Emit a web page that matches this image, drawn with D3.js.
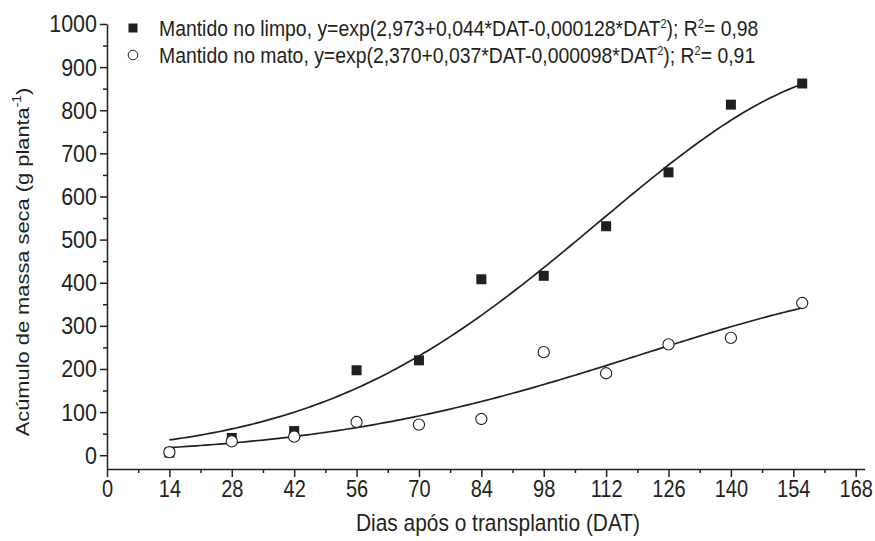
<!DOCTYPE html>
<html>
<head>
<meta charset="utf-8">
<script src="https://cdn.jsdelivr.net/npm/d3@7"></script>
<style>
  html, body { margin: 0; padding: 0; background: #fff; }
  svg { display: block; font-family: "Liberation Sans", Arial, sans-serif; }
</style>
</head>
<body>
<svg id="chart" width="875" height="541"></svg>
<script>
// Days after transplanting (DAT)
const dat = [14, 28, 42, 56, 70, 84, 98, 112, 126, 140, 156];
// Dry mass accumulation (g plant^-1), weed-free plots
const limpo = [6, 40, 56, 197, 220, 408, 416, 531, 656, 813, 862];
// Dry mass accumulation (g plant^-1), weedy plots
const mato = [7, 32, 43, 77, 71, 84, 239, 190, 257, 272, 353];
// Fitted model y = exp(a + b*DAT + c*DAT^2), coefficients before rounding
const fitLimpo = [2.973, 0.04415, -0.0001275];
const fitMato = [2.370, 0.03741, -0.0000975];

const xTicks = d3.range(0, 169, 14);
const yTicks = d3.range(0, 1001, 100);

const ink = "#231f20";
const tall = 1.15; // glyphs are drawn taller than wide
const svg = d3.select("#chart");

const x = d3.scaleLinear().domain([0, 170]).range([107, 864.6]);
const y = d3.scaleLinear().domain([-32, 1000]).range([469, 24]);

// Axes with minor ticks
const xMinor = d3.range(7, 170, 14);
const yMinor = d3.range(50, 1000, 100);

svg.append("g").attr("transform", `translate(0,${y(-32)})`)
  .call(d3.axisBottom(x).tickValues(xMinor).tickSize(4).tickFormat(""))
  .call(g => g.select(".domain").remove());
const gx = svg.append("g").attr("transform", `translate(0,${y(-32)})`)
  .call(d3.axisBottom(x).tickValues(xTicks).tickSize(8).tickSizeOuter(0).tickFormat(d3.format("d")));
gx.selectAll(".tick text")
  .attr("y", null).attr("dy", null)
  .attr("transform", `translate(0,${16 / tall + 14.5}) scale(1,${tall})`)
  .style("font-size", "20px");

svg.append("g").attr("transform", `translate(${x(0)},0)`)
  .call(d3.axisLeft(y).tickValues(yMinor).tickSize(4).tickFormat(""))
  .call(g => g.select(".domain").remove());
const gy = svg.append("g").attr("transform", `translate(${x(0)},0)`)
  .call(d3.axisLeft(y).tickValues(yTicks).tickSize(7).tickSizeOuter(0).tickPadding(3).tickFormat(d3.format("d")));
gy.selectAll(".tick text")
  .attr("transform", `scale(1,${tall})`)
  .style("font-size", "21.5px");

svg.selectAll(".domain, .tick line").attr("stroke", ink).attr("stroke-width", 1.5);
svg.selectAll(".tick text").attr("fill", ink);

// Axis titles
svg.append("text")
  .attr("transform", `translate(498,531) scale(1,${tall})`)
  .attr("text-anchor", "middle").attr("fill", ink).style("font-size", "20.9px")
  .text("Dias após o transplantio (DAT)");

const yl = svg.append("text")
  .attr("transform", `translate(29,262) scale(1,${tall}) rotate(-90)`)
  .attr("text-anchor", "middle").attr("fill", ink).style("font-size", "19px");
yl.append("tspan").text("Acúmulo de massa seca (g planta");
yl.append("tspan").attr("dy", -8).style("font-size", "12px").text("-1");
yl.append("tspan").attr("dy", 8).text(")");

// Fitted curves
const model = c => t => Math.exp(c[0] + c[1] * t + c[2] * t * t);
const tGrid = d3.range(dat[0], dat[dat.length - 1] + 0.01, 1);
const line = f => d3.line().x(t => x(t)).y(t => y(f(t)));

[fitLimpo, fitMato].forEach(c => {
  svg.append("path")
    .datum(tGrid)
    .attr("d", line(model(c)))
    .attr("fill", "none").attr("stroke", ink).attr("stroke-width", 1.7);
});

// Observed points
const sq = 10;
svg.append("g").selectAll("rect").data(dat).join("rect")
  .attr("x", (d) => x(d) - sq / 2)
  .attr("y", (d, i) => y(limpo[i]) - sq / 2)
  .attr("width", sq).attr("height", sq)
  .attr("fill", ink);

svg.append("g").selectAll("circle").data(dat).join("circle")
  .attr("cx", d => x(d))
  .attr("cy", (d, i) => y(mato[i]))
  .attr("r", 5.6)
  .attr("fill", "#fff").attr("stroke", ink).attr("stroke-width", 1.1);

// Legend
const legendRows = [
  { marker: "square", parts: ["Mantido no limpo, y=exp(2,973+0,044*DAT-0,000128*DAT", "2", "); R", "2", "= 0,98"] },
  { marker: "circle", parts: ["Mantido no mato, y=exp(2,370+0,037*DAT-0,000098*DAT", "2", "); R", "2", "= 0,91"] }
];
const lg = svg.append("g");
legendRows.forEach((row, i) => {
  const cy = 28 + i * 27;
  if (row.marker === "square") {
    lg.append("rect").attr("x", 133 - 4.5).attr("y", cy - 4.5).attr("width", 9).attr("height", 9).attr("fill", ink);
  } else {
    lg.append("circle").attr("cx", 133).attr("cy", cy).attr("r", 4.8)
      .attr("fill", "#fff").attr("stroke", ink).attr("stroke-width", 1);
  }
  const t = lg.append("text")
    .attr("transform", `translate(159,${cy + 8}) scale(1,${tall})`)
    .attr("fill", ink).style("font-size", "19.4px");
  row.parts.forEach((p, j) => {
    const sup = j % 2 === 1;
    const span = t.append("tspan").text(p);
    if (sup) span.attr("dy", -7).style("font-size", "11px");
    else if (j > 0) span.attr("dy", 7);
  });
});
</script>
</body>
</html>
